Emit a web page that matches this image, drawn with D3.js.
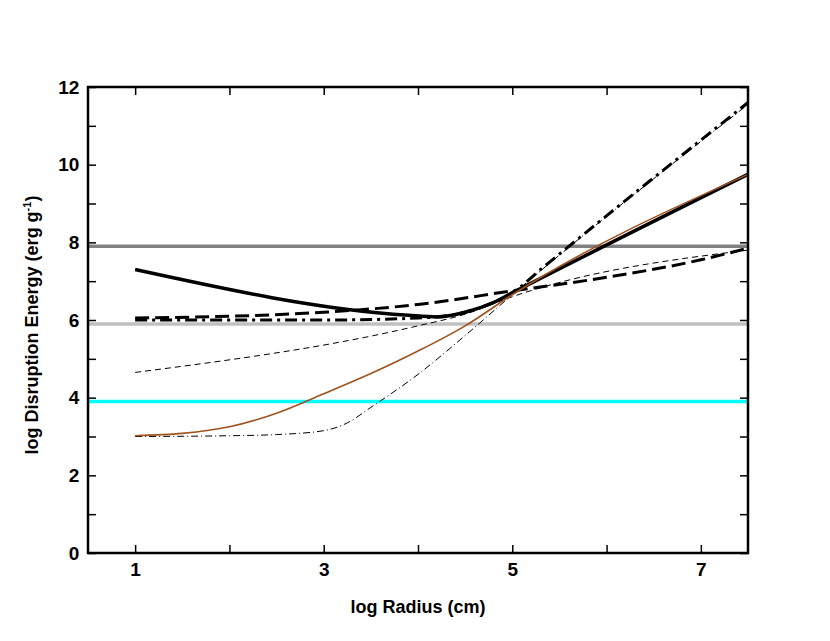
<!DOCTYPE html><html><head><script src="https://cdn.jsdelivr.net/npm/d3@7"></script>
<style>body{margin:0;background:#fff}text{font-family:"Liberation Sans",Arial,sans-serif;font-weight:bold}</style></head><body><svg id="c" width="830" height="641"></svg><script>
const xTicks=[1,3,5,7], yTicks=[0,2,4,6,8,10,12];
const hLevels=[7.9,5.9,3.9];
const thickSolid=[[1,7.3],[3.9,6.12],[4.2,6.08],[4.5,6.2],[4.8,6.45],[5,6.7],[7.5,9.75]];
const brown=[[1,3.02],[1.5,3.08],[2,3.25],[2.5,3.6],[3,4.1],[3.5,4.62],[4,5.2],[4.5,5.85],[5,6.65],[7.5,9.75]];
const thickDash=[[1,6.05],[3,6.2],[4,6.4],[5,6.75],[6,7.1],[7,7.55],[7.5,7.85]];
const thickDashDot=[[1,6.0],[3,6.0],[4,6.05],[4.5,6.2],[4.8,6.45],[5,6.7],[5.3,7.3],[7.5,11.6]];
const thinDash=[[1,4.65],[4,5.85],[4.5,6.15],[5,6.6],[7.5,7.8]];
const thinDashDot=[[1,3.0],[2,3.02],[2.5,3.05],[3,3.15],[3.25,3.35],[3.5,3.75],[4,4.6],[4.5,5.6],[5,6.65],[7.5,11.55]];
const svg=d3.select("#c");
const x=d3.scaleLinear([0.5,7.5],[88,748]), y=d3.scaleLinear([0,12],[553,87]);
const g=svg.append("g");
hLevels.forEach((v,i)=>g.append("line").attr("x1",88).attr("x2",748).attr("y1",y(v)).attr("y2",y(v))
 .attr("stroke",["#808080","#c0c0c0","#00ffff"][i]).attr("stroke-width",3.5));
const line=d3.line().x(d=>x(d[0])).y(d=>y(d[1])).curve(d3.curveMonotoneX);
const series=[[thinDash,"#000",1,"6,4"],[thinDashDot,"#000",1,"7,3,1,3"],[thickDash,"#000",3,"14,6"],[thickDashDot,"#000",3,"12,5,3,5"],[thickSolid,"#000",3.5,null],[brown,"#a0521e",1.6,null]];
series.forEach(([d,c,w,da])=>g.append("path").attr("d",line(d)).attr("fill","none").attr("stroke",c).attr("stroke-width",w).attr("stroke-dasharray",da));
svg.append("rect").attr("x",88).attr("y",87).attr("width",660).attr("height",466).attr("fill","none").attr("stroke","#000").attr("stroke-width",2.5);
const xa=svg.append("g").attr("transform","translate(0,553)").call(d3.axisBottom(x).tickValues([1,2,3,4,5,6,7]).tickSize(-8).tickFormat(d=>xTicks.includes(d)?d:""));
const xt=svg.append("g").attr("transform","translate(0,87)").call(d3.axisTop(x).tickValues([1,2,3,4,5,6,7]).tickSize(-8).tickFormat(""));
const ya=svg.append("g").attr("transform","translate(88,0)").call(d3.axisLeft(y).tickValues(d3.range(0,13)).tickSize(-8).tickFormat(d=>yTicks.includes(d)?d:""));
const yr=svg.append("g").attr("transform","translate(748,0)").call(d3.axisRight(y).tickValues(d3.range(0,13)).tickSize(-8).tickFormat(""));
[xa,xt,ya,yr].forEach(a=>{a.select(".domain").remove();a.selectAll("line").attr("stroke-width",1.5);a.selectAll("text").attr("font-size",19).attr("fill","#000");});
xa.selectAll("text").attr("dy","1.05em");ya.selectAll("text").attr("dx","-0.3em");
svg.append("text").attr("x",418).attr("y",613).attr("text-anchor","middle").attr("font-size",18).text("log Radius (cm)");
const yl=svg.append("text").attr("transform","translate(38,325) rotate(-90)").attr("text-anchor","middle").attr("font-size",18);
yl.append("tspan").text("log Disruption Energy (erg g");yl.append("tspan").attr("font-size",11).attr("dy",-7).text("-1");yl.append("tspan").attr("dy",7).text(")");
</script></body></html>
